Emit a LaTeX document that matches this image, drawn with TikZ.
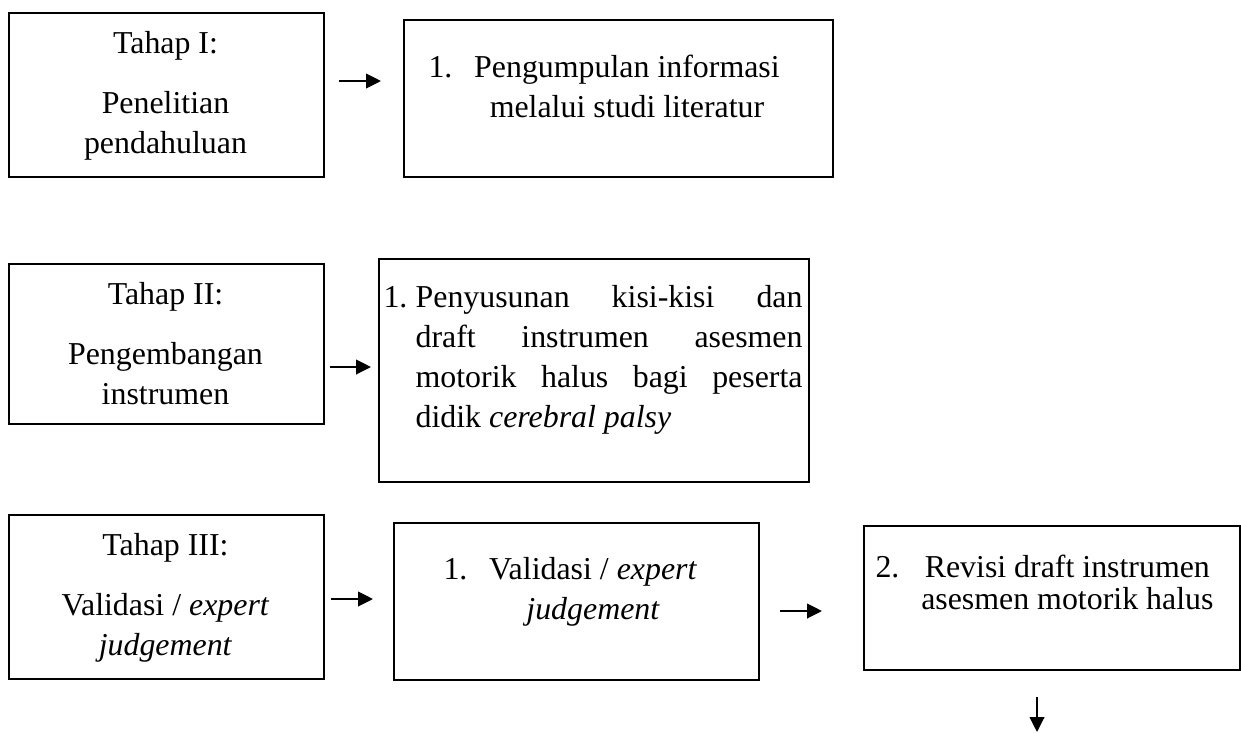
\documentclass[tikz,border=0pt]{standalone}
\usepackage{fontspec}
\setmainfont{Liberation Serif}
\usetikzlibrary{arrows.meta}

\newcommand{\stagefont}{\fontsize{11.7}{14.7}\selectfont}

\tikzset{
  stagebox/.style={draw, line width=0.75pt, inner sep=0pt, anchor=north west},
  stagetext/.style={inner sep=0pt, align=center, font=\stagefont, anchor=north},
  steptext/.style={inner sep=0pt, font=\stagefont, anchor=north west},
  flowarrow/.style={-{Triangle[length=5.5pt,width=5.4pt]}, line width=0.7pt}
}

\begin{document}
\begin{tikzpicture}[x=0.367pt, y=-0.367pt]
    \useasboundingbox (0,0) rectangle (1241,733);
    % ---------------------------------------------
    % Tahap I
    \node[stagebox, minimum width=315*0.367pt, minimum height=164*0.367pt] (a1) at (8,12) {};
    \node[stagetext] (a1t) at (165.5,31) {Tahap I:\\[7.3pt] Penelitian\\ pendahuluan};
    \node[stagebox, minimum width=429*0.367pt, minimum height=157*0.367pt] (b1) at (403,19) {};
    \node[steptext] (b1t) at (428,49) {\begin{tabular}{@{}l@{\hspace{8pt}}c@{}}
        1. & Pengumpulan informasi\\
           & melalui studi literatur
      \end{tabular}};

    % Tahap II
    \node[stagebox, minimum width=315*0.367pt, minimum height=160*0.367pt] (a2) at (8,263) {};
    \node[stagetext] (a2t) at (165.5,282) {Tahap II:\\[7.3pt] Pengembangan\\ instrumen};
    \node[stagebox, minimum width=430*0.367pt, minimum height=223*0.367pt] (b2) at (378,258) {};
    \node[steptext] (b2t) at (383,279) {\begin{tabular}{@{}l@{\hspace{3pt}}p{142pt}@{}}
        1. & Penyusunan kisi-kisi dan\linebreak
             draft instrumen asesmen\linebreak
             motorik halus bagi peserta\linebreak
             didik \textit{cerebral palsy}
      \end{tabular}};

    % Tahap III
    \node[stagebox, minimum width=315*0.367pt, minimum height=164*0.367pt] (a3) at (8,514) {};
    \node[stagetext] (a3t) at (165.5,533) {Tahap III:\\[7.3pt] Validasi / \textit{expert}\\ \textit{judgement}};
    \node[stagebox, minimum width=365*0.367pt, minimum height=157*0.367pt] (b3) at (393,522) {};
    \node[steptext] (b3t) at (443,551) {\begin{tabular}{@{}l@{\hspace{8pt}}c@{}}
        1. & Validasi / \textit{expert}\\
           & \textit{judgement}
      \end{tabular}};
    \node[stagebox, minimum width=376*0.367pt, minimum height=144*0.367pt] (c3) at (863,525) {};
    \node[steptext] (c3t) at (875,549) {\begin{tabular}{@{}l@{\hspace{8pt}}c@{}}
        2. & Revisi draft instrumen\\[-2.9pt]
           & asesmen motorik halus
      \end{tabular}};

    % arrows
    \coordinate (a1out) at (339,81);
    \coordinate (b1in) at (381,81);
    \draw[flowarrow] (a1out) -- (b1in);
    \coordinate (a2out) at (330,367);
    \coordinate (b2in) at (371,367);
    \draw[flowarrow] (a2out) -- (b2in);
    \coordinate (a3out) at (331,599);
    \coordinate (b3in) at (373,599);
    \draw[flowarrow] (a3out) -- (b3in);
    \coordinate (b3out) at (780,611);
    \coordinate (c3in) at (822,611);
    \draw[flowarrow] (b3out) -- (c3in);
    \coordinate (c3out) at (1037,697);
    \coordinate (nextin) at (1037,732);
    \draw[flowarrow] (c3out) -- (nextin);

  \end{tikzpicture}
\end{document}
